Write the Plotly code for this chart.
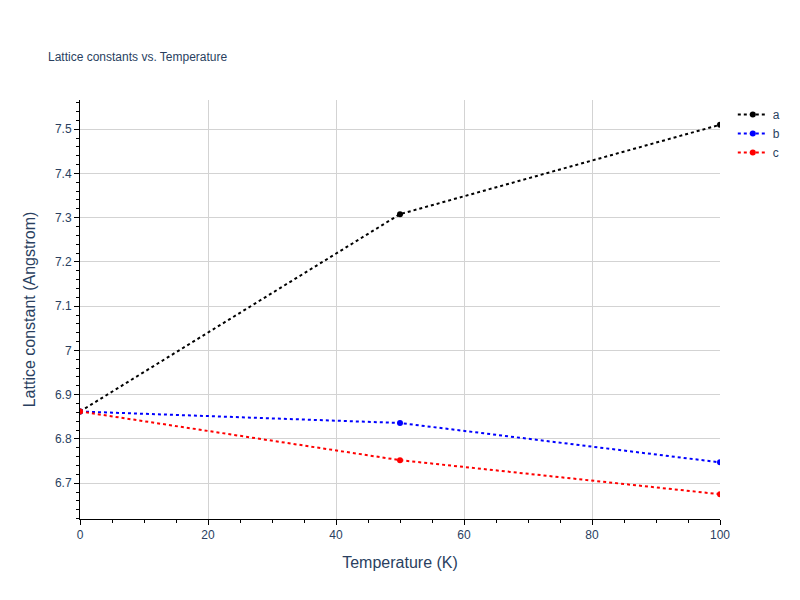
import plotly.graph_objects as go

temperature = [0, 50, 100]
a_values = [6.862, 7.308, 7.510]
b_values = [6.862, 6.836, 6.747]
c_values = [6.862, 6.752, 6.675]

series = [("a", a_values, "black"), ("b", b_values, "blue"), ("c", c_values, "red")]

fig = go.Figure()
for name, vals, color in series:
    fig.add_trace(go.Scatter(x=temperature, y=vals, name=name, mode="lines+markers",
                             line=dict(color=color, dash="dot", width=2),
                             marker=dict(color=color, size=6)))

axis_style = dict(showline=True, linecolor="black", linewidth=1, ticks="outside",
                  tickcolor="black", ticklen=5, gridcolor="lightgray", zeroline=False,
                  minor=dict(ticks="outside", ticklen=3, tickcolor="black", showgrid=False),
                  title_font=dict(size=16))

fig.update_layout(
    width=800, height=600,
    font=dict(family="Liberation Sans, Arial, sans-serif"),
    title=dict(text="Lattice constants vs. Temperature", x=0.05, y=0.925, font=dict(size=12)),
    plot_bgcolor="white", paper_bgcolor="white",
    margin=dict(l=72, r=88, t=92, b=89),
    legend=dict(x=1.02, y=1, font=dict(size=12)),
)
fig.update_xaxes(title_text="Temperature (K)", range=[0, 100], dtick=20, **axis_style)
fig.update_yaxes(title_text="Lattice constant (Angstrom)", range=[6.619, 7.566], dtick=0.1, **axis_style)

fig.write_html("out.html")
